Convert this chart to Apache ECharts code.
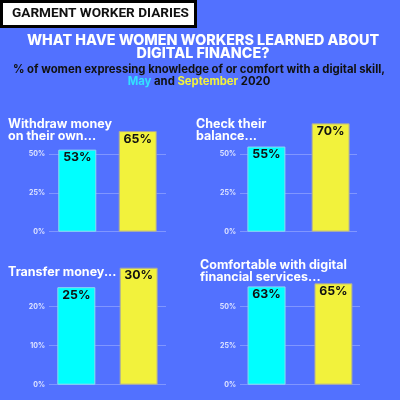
<!DOCTYPE html>
<html>
<head>
<meta charset="utf-8">
<script src="https://cdn.jsdelivr.net/npm/echarts@6/dist/echarts.min.js"></script>
<style>
  html, body { margin: 0; padding: 0; background: #5271ff; }
  #chart { width: 400px; height: 400px; }
</style>
</head>
<body>
<div id="chart"></div>
<script>
const skills = ['Withdraw money\non their own...', 'Check their\nbalance...', 'Transfer money...', 'Comfortable with digital\nfinancial services...']
const may = [53, 55, 25, 63]
const september = [65, 70, 30, 65]
const axisMax = [75, 75, 30, 75]
const axisStep = [25, 25, 10, 25]

// panel layout: grid box in pixels, title anchor, gap between the two bars
const panels = [
  { left: 49, width: 117, top: 115.6, height: 116.1, gap: '59%', tx: 8, ty: 117.5 },
  { left: 240, width: 117, top: 115.6, height: 116.1, gap: '69%', tx: 196, ty: 117.5 },
  { left: 49, width: 117, top: 267.7, height: 117, gap: '64%', tx: 8, ty: 265.5 },
  { left: 240, width: 120, top: 267.7, height: 117, gap: '76%', tx: 200, ty: 258.5 },
]

const CYAN = '#00ffff'
const YELLOW = '#f2f23c'
const FONT = 'Inter'

const chart = echarts.init(document.getElementById('chart'), null, { renderer: 'canvas' })

const titles = [
  {
    text: 'GARMENT WORKER DIARIES',
    left: 12, top: 7, padding: 0,
    textStyle: { fontFamily: 'Roboto', fontWeight: 'bold', fontSize: 13.6, color: '#111' },
  },
  {
    text: 'WHAT HAVE WOMEN WORKERS LEARNED ABOUT\nDIGITAL FINANCE?',
    left: 203, top: 34.5, padding: 0, textAlign: 'center',
    textStyle: { fontFamily: FONT, fontWeight: 800, fontSize: 14.3, lineHeight: 12.5, color: '#fff' },
  },
  {
    text: '% of women expressing knowledge of or comfort with a digital skill,\n{may|May} and {sep|September} 2020',
    left: 199, top: 64, padding: 0, textAlign: 'center',
    textStyle: {
      fontFamily: FONT, fontWeight: 'bold', fontSize: 11.3, lineHeight: 12, color: '#111',
      rich: {
        may: { fontFamily: FONT, fontWeight: 'bold', fontSize: 11.3, color: '#33e0ff' },
        sep: { fontFamily: FONT, fontWeight: 'bold', fontSize: 11.3, color: '#f2f23c' },
      },
    },
  },
]

const grid = [], xAxis = [], yAxis = [], series = []
panels.forEach((p, i) => {
  titles.push({
    text: skills[i], left: p.tx, top: p.ty, padding: 0,
    textStyle: { fontFamily: FONT, fontWeight: 'bold', fontSize: 12.5, lineHeight: 12.5, color: '#fff' },
  })
  grid.push({ left: p.left, top: p.top, width: p.width, height: p.height })
  xAxis.push({
    type: 'category', gridIndex: i, data: [''],
    axisLine: { show: false }, axisTick: { show: false }, axisLabel: { show: false },
  })
  yAxis.push({
    type: 'value', gridIndex: i, min: 0, max: axisMax[i], interval: axisStep[i],
    axisLine: { show: false }, axisTick: { show: false },
    axisLabel: {
      showMaxLabel: false, formatter: '{value}%', margin: 4,
      fontFamily: FONT, fontWeight: 'bold', fontSize: 7, color: '#dfe4ff',
    },
    splitLine: { showMaxLine: false, lineStyle: { color: '#8096ff', width: 1.2 } },
  })
  const label = {
    show: true, position: 'insideTop', distance: 2, formatter: '{c}%',
    fontFamily: FONT, fontWeight: 'bold', fontSize: 12.3, color: '#111',
  }
  series.push({
    name: 'May', type: 'bar', xAxisIndex: i, yAxisIndex: i, data: [may[i]],
    barWidth: 38, barGap: p.gap,
    itemStyle: { color: CYAN, borderColor: '#8fd8f0', borderWidth: 1 },
    label,
  })
  series.push({
    name: 'September', type: 'bar', xAxisIndex: i, yAxisIndex: i, data: [september[i]],
    barWidth: 38, barGap: p.gap,
    itemStyle: { color: YELLOW, borderColor: '#a8a8a0', borderWidth: 1 },
    label,
  })
})

chart.setOption({
  backgroundColor: '#5271ff',
  animation: false,
  title: titles,
  graphic: [{
    type: 'rect', z: -1,
    shape: { x: 1.5, y: 1.5, width: 194, height: 25 },
    style: { fill: '#fff', stroke: '#000', lineWidth: 3 },
  }],
  grid, xAxis, yAxis, series,
})
window.addEventListener('resize', () => chart.resize())
</script>
</body>
</html>
